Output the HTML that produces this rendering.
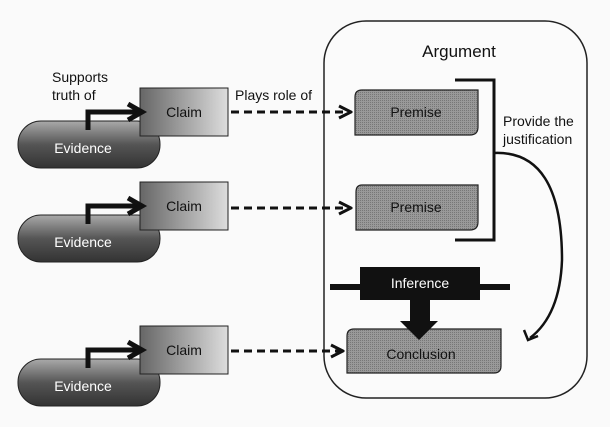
<!DOCTYPE html>
<html><head><style>body{margin:0;background:#fafafa}svg{display:block}</style></head><body>
<svg width="610" height="427" viewBox="0 0 610 427" xmlns="http://www.w3.org/2000/svg" font-family="Liberation Sans, sans-serif">
<defs>
<linearGradient id="ev" x1="0" y1="0" x2="0" y2="1"><stop offset="0" stop-color="#aaa"/><stop offset="0.5" stop-color="#555"/><stop offset="1" stop-color="#333"/></linearGradient>
<linearGradient id="cl" x1="0" y1="0" x2="1" y2="0"><stop offset="0" stop-color="#666"/><stop offset="1" stop-color="#ddd"/></linearGradient>
<pattern id="dots" width="2" height="2" patternUnits="userSpaceOnUse"><rect width="2" height="2" fill="#999"/><rect width="1" height="1" fill="#777"/></pattern>
<marker id="ah" viewBox="0 0 10 10" refX="9" refY="5" markerWidth="5" markerHeight="5" orient="auto"><path d="M1,1 L9,5 L1,9" fill="none" stroke="#111" stroke-width="2"/></marker>
</defs>
<rect x="324" y="21" width="263" height="377" rx="42" fill="#fbfbfb" stroke="#222" stroke-width="1.5"/>
<text x="459" y="57" font-size="17" text-anchor="middle" fill="#111">Argument</text>
<g font-size="14" fill="#111">
<text x="52" y="82">Supports</text><text x="52" y="100">truth of</text>
<text x="235" y="100">Plays role of</text>
<text x="503" y="126">Provide the</text><text x="503" y="144">justification</text>
</g>
<g id="r1">
<rect x="18" y="121" width="142" height="47" rx="23" fill="url(#ev)" stroke="#222"/>
<text x="83" y="153" font-size="14" fill="#fff" text-anchor="middle">Evidence</text>
<rect x="140" y="88" width="88" height="48" fill="url(#cl)" stroke="#222"/>
<text x="184" y="117" font-size="14" fill="#111" text-anchor="middle">Claim</text>
<path d="M88,130 V112 H140" fill="none" stroke="#111" stroke-width="5"/>
<path d="M128,104 L142,112 L128,120" fill="none" stroke="#111" stroke-width="5"/>
</g>
<use href="#r1" y="94"/>
<use href="#r1" y="238"/>
<g stroke="#111" stroke-width="3" fill="none">
<path d="M231,112 H351" stroke-dasharray="8,5" marker-end="url(#ah)"/>
<path d="M231,208 H351" stroke-dasharray="8,5" marker-end="url(#ah)"/>
<path d="M231,351 H343" stroke-dasharray="8,5" marker-end="url(#ah)"/>
</g>
<g stroke="#222" stroke-width="1.2" fill="url(#dots)">
<path d="M362,90 H478 V127 Q478,135 470,135 H355 V97 Q355,90 362,90Z"/>
<path d="M362,185 H478 V222 Q478,230 470,230 H356 V192 Q356,185 362,185Z"/>
<path d="M354,329 H501 V366 Q501,373 494,373 H347 V336 Q347,329 354,329Z"/>
</g>
<text x="416" y="117" font-size="14" fill="#111" text-anchor="middle">Premise</text>
<text x="416" y="212" font-size="14" fill="#111" text-anchor="middle">Premise</text>
<text x="421" y="359" font-size="14" fill="#111" text-anchor="middle">Conclusion</text>
<path d="M455,80 H494 V240 H455" fill="none" stroke="#111" stroke-width="3"/>
<path d="M494,153 Q562,150 562,260 Q560,315 530,338" fill="none" stroke="#111" stroke-width="2.5"/>
<path d="M524,330 L528,340 L538,336" fill="none" stroke="#111" stroke-width="2.5"/>
<rect x="330" y="284" width="180" height="6" fill="#111"/>
<rect x="360" y="267" width="120" height="33" fill="#111"/>
<text x="420" y="288" font-size="14" fill="#fff" text-anchor="middle">Inference</text>
<rect x="410" y="299" width="20" height="23" fill="#111"/>
<path d="M400,321 H438 L419,340Z" fill="#111"/>
</svg>
</body></html>
